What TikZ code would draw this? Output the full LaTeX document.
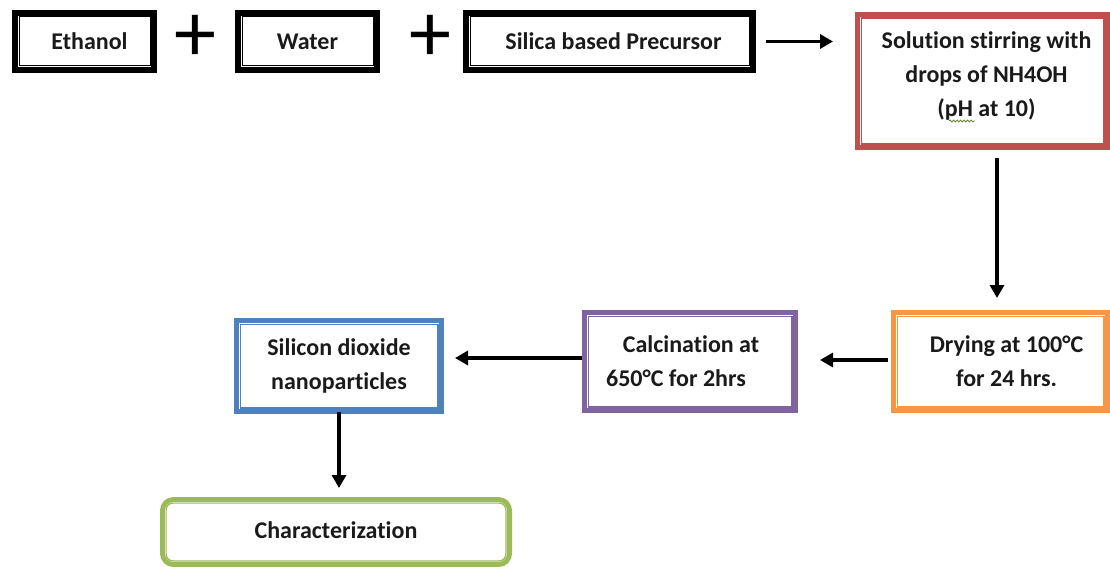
\documentclass[tikz,border=0pt]{standalone}
\usepackage{fontspec}
\setmainfont{Carlito}[Ligatures=NoCommon]
\usetikzlibrary{arrows.meta,decorations.pathmorphing}
\definecolor{cred}{HTML}{C0504D}
\definecolor{corange}{HTML}{F79646}
\definecolor{cpurple}{HTML}{8064A2}
\definecolor{cblue}{HTML}{4F81BD}
\definecolor{cgreen}{HTML}{9BBB59}
\definecolor{ctext}{HTML}{1A1A1A}
\tikzset{
  dbox/.style n args={4}{draw=#1, line width=#2, inner sep=0pt, align=center,
    text=ctext, font=\fontsize{24}{34}\selectfont\bfseries,
    path picture={\draw[#1, line width=#4]
      ([shift={(#3,-#3)}]path picture bounding box.north west) rectangle
      ([shift={(-#3,#3)}]path picture bounding box.south east);}},
  blackbox/.style={dbox={black}{6pt}{4pt}{1pt}},
  colbox/.style={dbox={#1}{5pt}{3.6pt}{1.2pt}},
  plus/.style={font=\fontsize{84}{84}\selectfont, inner sep=0pt, text=black},
  arr/.style={line width=3.5pt, -{Triangle[length=13pt,width=14pt]}},
}
\begin{document}
\begin{tikzpicture}[x=1pt,y=-1pt]
\useasboundingbox (0,0) rectangle (1110,567);
\clip (0,0) rectangle (1110,567);
% top row
\node[blackbox, minimum width=139pt, minimum height=57pt] (eth) at (84.5,41.5) {\hspace{10pt}Ethanol};
\node[plus] (p1) at (195,38) {+};
\node[blackbox, minimum width=139pt, minimum height=57pt] (wat) at (307.5,41.5) {Water};
\node[plus] (p2) at (430,38) {+};
\node[blackbox, minimum width=287pt, minimum height=57pt] (sil) at (609.5,41.5) {\hspace{8pt}Silica based Precursor};
\node[colbox=cred, minimum width=250pt, minimum height=133pt, text depth=14pt] (sol) at (982.5,81)
  {\hspace{8pt}Solution stirring with\\\hspace{8pt}drops of NH4OH\\\hspace{8pt}(pH at 10)};
\draw[cgreen!70!black, line width=0.8pt, decorate, decoration={snake, amplitude=1pt, segment length=3.5pt}] (949,121) -- (975,121);
% middle row
\node[colbox=corange, minimum width=214pt, minimum height=98pt] (dry) at (1000.5,361.5)
  {\hspace{12pt}Drying at 100°C\\\hspace{12pt}for 24 hrs.};
\node[colbox=cpurple, minimum width=211pt, minimum height=98pt] (cal) at (690,361.5)
  {\hspace{2pt}Calcination at\\650°C for 2hrs\hspace*{28pt}};
\node[colbox=cblue, minimum width=205pt, minimum height=91pt] (sio) at (339,366)
  {Silicon dioxide\\nanoparticles};
\node[draw=cgreen, line width=5pt, rounded corners=11pt, inner sep=0pt, text=ctext,
  font=\fontsize{24}{34}\selectfont\bfseries, minimum width=347pt, minimum height=65pt,
  path picture={\draw[cgreen, line width=1.2pt, rounded corners=7pt]
      ([shift={(3.6pt,-3.6pt)}]path picture bounding box.north west) rectangle
      ([shift={(-3.6pt,3.6pt)}]path picture bounding box.south east);}]
  (chr) at (336,532) {\raisebox{3pt}{Characterization}};
% connectors
\draw[arr, shorten <=10pt, shorten >=22pt] (sil.east) -- (sol.west |- sil.east);
\draw[arr, shorten <=8pt, shorten >=12pt] ([xshift=14.5pt]sol.south) -- ([xshift=-3.5pt]dry.north);
\draw[arr, shorten <=3pt, shorten >=22pt] ([yshift=1.5pt]dry.west) -- ([yshift=1.5pt]dry.west -| cal.east);
\draw[arr, shorten >=11pt] ([yshift=3.5pt]cal.west) -- ([yshift=3.5pt]cal.west -| sio.east);
\draw[arr, shorten <=-2pt, shorten >=9pt] (sio.south) -- (sio.south |- chr.north);
\end{tikzpicture}
\end{document}
